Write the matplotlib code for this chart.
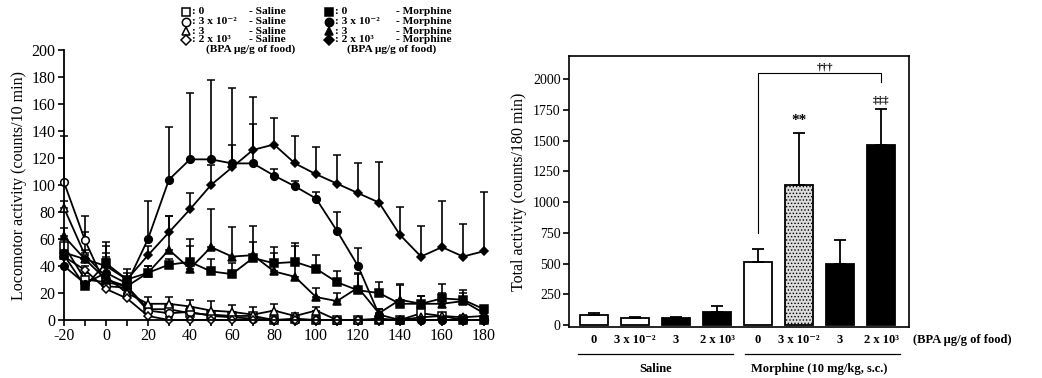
import matplotlib
matplotlib.use("Agg")
import matplotlib.pyplot as plt
import matplotlib.transforms as mtransforms
import numpy as np

plt.rcParams['font.family'] = ['Liberation Serif', 'DejaVu Serif']
plt.rcParams['axes.unicode_minus'] = False
plt.rcParams['hatch.color'] = '#8a8a8a'
plt.rcParams['hatch.linewidth'] = 0.6

# ---------------- data: time course ----------------
time = [-20, -10, 0, 10, 20, 30, 40, 50, 60, 70, 80, 90, 100, 110, 120, 130, 140, 150, 160, 170, 180]

sal_0 = [55, 30, 28, 25, 8, 8, 5, 4, 3, 3, 0, 1, 0, 0, 0, 0, 0, 5, 3, 0, 0]
sal_0_top = [60, 35, 35, 28, 12, 12, 8, 7, 6, 5, 2, 3, 2, 2, 2, 1, 1, 8, 5, 2, 3]
sal_3em2 = [102, 59, 25, 24, 7, 5, 6, 3, 2, 1, 0, 0, 0, 0, 0, 0, 0, 0, 0, 0, 0]
sal_3em2_top = [136, 77, 30, 28, 10, 8, 9, 5, 4, 3, 2, 2, 1, 1, 1, 1, 1, 1, 1, 1, 1]
sal_3 = [83, 48, 32, 20, 12, 12, 10, 7, 6, 4, 7, 3, 7, 0, 0, 1, 0, 2, 3, 2, 3]
sal_3_top = [88, 52, 47, 24, 17, 17, 15, 14, 11, 10, 12, 5, 10, 2, 2, 3, 1, 4, 5, 4, 5]
sal_2e3 = [47, 37, 23, 16, 3, 0, 0, 0, 0, 0, 0, 0, 0, 0, 0, 0, 0, 0, 0, 0, 0]
sal_2e3_top = [50, 40, 27, 19, 5, 2, 1, 1, 1, 1, 1, 1, 1, 1, 1, 1, 1, 1, 1, 1, 1]

mor_0 = [48, 25, 42, 30, 35, 41, 43, 36, 34, 46, 42, 43, 38, 28, 22, 20, 12, 12, 16, 15, 8]
mor_0_top = [55, 30, 50, 35, 40, 45, 60, 45, 42, 58, 54, 57, 48, 36, 35, 28, 27, 18, 27, 22, 10]
mor_3em2 = [40, 27, 35, 27, 60, 104, 119, 119, 116, 116, 107, 99, 90, 66, 40, 4, 0, 0, 0, 0, 0]
mor_3em2_top = [45, 32, 45, 32, 88, 143, 168, 178, 172, 165, 112, 103, 95, 80, 53, 8, 2, 2, 2, 2, 2]
mor_3 = [62, 45, 30, 25, 35, 52, 38, 54, 47, 48, 36, 32, 17, 14, 24, 5, 15, 12, 12, 14, 5]
mor_3_top = [68, 50, 55, 30, 40, 77, 55, 82, 69, 70, 50, 55, 24, 20, 34, 8, 26, 18, 20, 20, 8]
mor_2e3 = [50, 45, 40, 30, 48, 65, 82, 100, 113, 126, 130, 116, 108, 101, 94, 87, 63, 47, 54, 47, 51]
mor_2e3_top = [55, 65, 58, 38, 55, 77, 94, 115, 130, 145, 150, 136, 128, 122, 116, 117, 84, 70, 88, 71, 95]

# ---------------- data: total activity ----------------
bar_labels = ['0', '3 x 10\u207b\u00b2', '3', '2 x 10\u00b3', '0', '3 x 10\u207b\u00b2', '3', '2 x 10\u00b3']
bar_values = [80, 55, 60, 110, 510, 1140, 495, 1460]
bar_tops = [95, 65, 65, 155, 620, 1565, 695, 1755]
group_labels = ['Saline', 'Morphine (10 mg/kg, s.c.)']
legend_doses = [': 0', ': 3 x 10\u207b\u00b2', ': 3', ': 2 x 10\u00b3']

W, H = 1042, 378
fig = plt.figure(figsize=(W / 100, H / 100), dpi=100)

# ---------------- left panel ----------------
ax1 = fig.add_axes([64 / W, 1 - 320 / H, 420 / W, 270 / H])
series = [
    (sal_0, sal_0_top, 's', 'white'),
    (sal_3em2, sal_3em2_top, 'o', 'white'),
    (sal_3, sal_3_top, '^', 'white'),
    (sal_2e3, sal_2e3_top, 'D', 'white'),
    (mor_0, mor_0_top, 's', 'black'),
    (mor_3em2, mor_3em2_top, 'o', 'black'),
    (mor_3, mor_3_top, '^', 'black'),
    (mor_2e3, mor_2e3_top, 'D', 'black'),
]
for vals, tops, mk, fc in series:
    v = np.array(vals, float)
    up = np.clip(np.array(tops, float) - v, 0, None)
    ms = 4.5 if mk == 'D' else 5.5
    eb = ax1.errorbar(time, v, yerr=[np.zeros_like(v), up], color='black', lw=1.3,
                      marker=mk, ms=ms, mfc=fc, mec='black', mew=1.1,
                      ecolor='black', elinewidth=1.2, capsize=3, capthick=1.2)
    eb.lines[0].set_clip_on(False)
    for c in eb.lines[1]:
        c.set_clip_on(False)
    for c in eb.lines[2]:
        c.set_clip_on(False)

ax1.set_xlim(-20, 180)
ax1.set_ylim(0, 200)
ax1.set_xticks(range(-20, 181, 20))
ax1.set_xticks(range(-20, 181, 10), minor=True)
ax1.set_yticks(range(0, 201, 20))
for s in ['top', 'right']:
    ax1.spines[s].set_visible(False)
for s in ['left', 'bottom']:
    ax1.spines[s].set_linewidth(1.3)
ax1.tick_params(axis='both', which='both', direction='out', width=1.2, labelsize=11.5, pad=2)
ax1.tick_params(axis='both', which='major', length=4)
ax1.tick_params(axis='x', which='minor', length=4)
ax1.set_ylabel('Locomotor activity (counts/10 min)', fontsize=11.5, labelpad=3)

# legend (manual)
leg_rows = [12, 21.5, 31, 40]
col_defs = [
    (186, 192, 249, ['s', 'o', '^', 'D'], 'white', '- Saline'),
    (329, 335, 396, ['s', 'o', '^', 'D'], 'black', '- Morphine'),
]
for mx, tx, gx, mks, fc, grp in col_defs:
    for yy, mk, dt in zip(leg_rows, mks, legend_doses):
        fig.lines.append(plt.Line2D([mx / W], [1 - yy / H], marker=mk, ms=(5 if mk == 'D' else 6),
                                    mfc=fc, mec='black', mew=1.1, ls='none',
                                    transform=fig.transFigure))
        fig.text(tx / W, 1 - yy / H, dt, fontsize=8.2, fontweight='bold', va='center', ha='left')
        fig.text(gx / W, 1 - yy / H, grp, fontsize=8.2, fontweight='bold', va='center', ha='left')
fig.text(251 / W, 1 - 49 / H, '(BPA \u03bcg/g of food)', fontsize=8.2, fontweight='bold', va='center', ha='center')
fig.text(392 / W, 1 - 49 / H, '(BPA \u03bcg/g of food)', fontsize=8.2, fontweight='bold', va='center', ha='center')

# ---------------- right panel ----------------
ax2 = fig.add_axes([569 / W, 1 - 327 / H, 340 / W, 271 / H])
xpos = np.arange(len(bar_values))
colors = ['white', 'white', 'black', 'black', 'white', '#dcdcdc', 'black', 'black']
hatches = ['', '', '', '', '', '.....', '', '']
bars = ax2.bar(xpos, bar_values, width=0.68, color=colors, edgecolor='black', linewidth=1.3)
for b, h in zip(bars, hatches):
    b.set_hatch(h)
bv = np.array(bar_values, float)
ax2.errorbar(xpos, bv, yerr=[np.zeros_like(bv), np.array(bar_tops, float) - bv], fmt='none',
             ecolor='black', elinewidth=1.3, capsize=4, capthick=1.3)
ax2.set_xlim(-0.61, 7.68)
ax2.set_ylim(-16, 2187)
ax2.set_yticks(range(0, 2001, 250))
ax2.set_xticks([])
for s in ax2.spines.values():
    s.set_linewidth(1.2)
ax2.tick_params(axis='y', direction='out', length=4, width=1.2, labelsize=10, pad=2)
ax2.set_ylabel('Total activity (counts/180 min)', fontsize=11.5, labelpad=4)

trans = mtransforms.blended_transform_factory(ax2.transData, ax2.transAxes)
for xp, lab in zip(xpos, bar_labels):
    ax2.text(xp, -0.048, lab, transform=trans, ha='center', va='center', fontsize=9, fontweight='bold')
ax2.text(7.78, -0.048, '(BPA \u03bcg/g of food)', transform=trans, ha='left', va='center',
         fontsize=9, fontweight='bold')
ax2.plot([-0.39, 3.39], [-0.10, -0.10], transform=trans, color='black', lw=0.9, clip_on=False)
ax2.plot([3.68, 7.46], [-0.10, -0.10], transform=trans, color='black', lw=0.9, clip_on=False)
ax2.text(1.5, -0.155, group_labels[0], transform=trans, ha='center', va='center', fontsize=9, fontweight='bold')
ax2.text(5.5, -0.155, group_labels[1], transform=trans, ha='center', va='center', fontsize=9, fontweight='bold')

# significance bracket and marks
ax2.plot([4, 4, 7, 7], [750, 2049, 2049, 1975], color='black', lw=0.8)
ax2.text(5.63, 2060, '\u2020\u2020\u2020', ha='center', va='bottom', fontsize=8, fontweight='bold')
ax2.text(5, 1610, '**', ha='center', va='bottom', fontsize=11, fontweight='bold')
ax2.text(7, 1790, '\u2021\u2021\u2021', ha='center', va='bottom', fontsize=8, fontweight='bold')

fig.savefig('out.png', dpi=100, facecolor='white')
